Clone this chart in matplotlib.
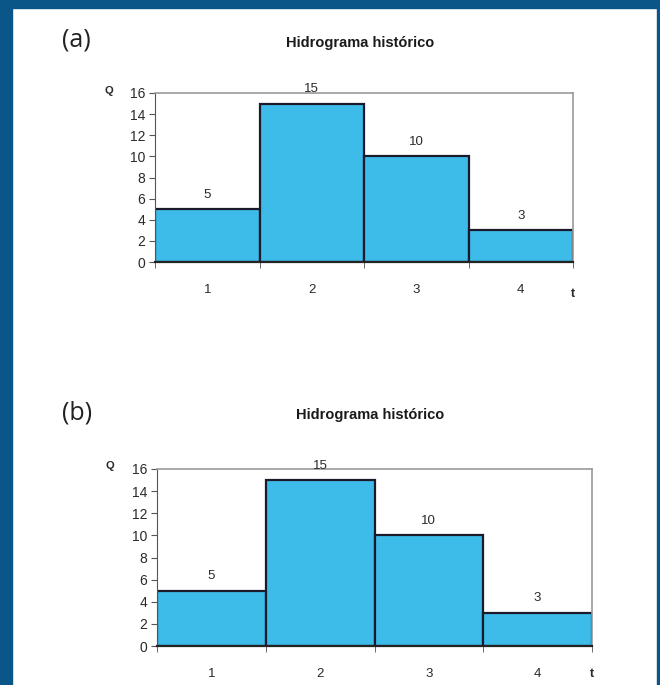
import numpy as np
import matplotlib
matplotlib.use('Agg')
import matplotlib.pyplot as plt
from matplotlib.patches import Rectangle

plt.rcParams['font.family'] = ['Liberation Sans', 'DejaVu Sans']

t_vals = [1, 2, 3, 4]
q_vals = [5, 15, 10, 3]
y_ticks = [0, 2, 4, 6, 8, 10, 12, 14, 16]
titulo = 'Hidrograma histórico'
paineis = ['(a)', '(b)']

W, H = 660, 685
fig = plt.figure(figsize=(W / 100, H / 100), dpi=100)
fig.patch.set_facecolor('white')

# moldura azul
azul = '#0b5689'
fig.patches.append(Rectangle((0, 1 - 8 / H), 1, 8 / H, transform=fig.transFigure,
                             color=azul, zorder=0))
fig.patches.append(Rectangle((0, 0), 12 / W, 1, transform=fig.transFigure,
                             color=azul, zorder=0))
fig.patches.append(Rectangle((1 - 3 / W, 0), 3 / W, 1, transform=fig.transFigure,
                             color=azul, zorder=0))

# posicoes dos eixos em pixels: esquerda, direita, topo, base
caixas = [(155, 573, 93, 262), (157, 592, 469, 646)]
titulos_y = [43, 415]
letras_xy = [(62, 40), (62, 413)]
q_xy = [(109, 91), (110, 466)]
t_y = [294, 674]

for k, (l, r, tp, b) in enumerate(caixas):
    ax = fig.add_axes([l / W, 1 - b / H, (r - l) / W, (b - tp) / H])
    ax.bar(t_vals, q_vals, width=1.0, color='#3dbce9', edgecolor='#1a1a2a',
           linewidth=1.6, zorder=2)
    ax.set_xlim(0.5, 4.5)
    ax.set_ylim(0, 16)
    ax.set_yticks(y_ticks)
    ax.set_xticks(t_vals)
    ax.set_xticks(np.arange(0.5, 4.6, 1), minor=True)
    ax.tick_params(axis='x', which='major', length=0, pad=16, labelsize=9.5,
                   colors='#2a2a2a')
    ax.tick_params(axis='x', which='minor', length=4, direction='out',
                   color='#555555')
    ax.tick_params(axis='y', length=4, direction='out', labelsize=10,
                   color='#555555', labelcolor='#2a2a2a', pad=3)
    for s in ['top', 'right']:
        ax.spines[s].set_color('#9a9a9a')
        ax.spines[s].set_linewidth(1.2)
    ax.spines['left'].set_color('#555555')
    ax.spines['bottom'].set_color('#222222')
    ax.spines['bottom'].set_linewidth(1.6)
    for x, q in zip(t_vals, q_vals):
        ax.annotate(str(q), (x, q), xytext=(0, 6), textcoords='offset points',
                    ha='center', va='bottom', fontsize=9.5, color='#2a2a2a')

    fig.text(r / W, 1 - t_y[k] / H, 't', ha='center', va='center',
             fontsize=9, fontweight='bold', color='#2a2a2a')
    qx, qy = q_xy[k]
    fig.text(qx / W, 1 - qy / H, 'Q', ha='center', va='center',
             fontsize=8, fontweight='bold', color='#2a2a2a')
    cx = (l + r) / 2 - 4
    fig.text(cx / W, 1 - titulos_y[k] / H, titulo, ha='center', va='center',
             fontsize=10.5, fontweight='bold', color='#1a1a1a')
    lx, ly = letras_xy[k]
    fig.text(lx / W, 1 - ly / H, paineis[k], ha='left', va='center',
             fontsize=18, color='#222222', family=['Open Sans', 'DejaVu Sans'])

fig.savefig('out.png', dpi=100)
